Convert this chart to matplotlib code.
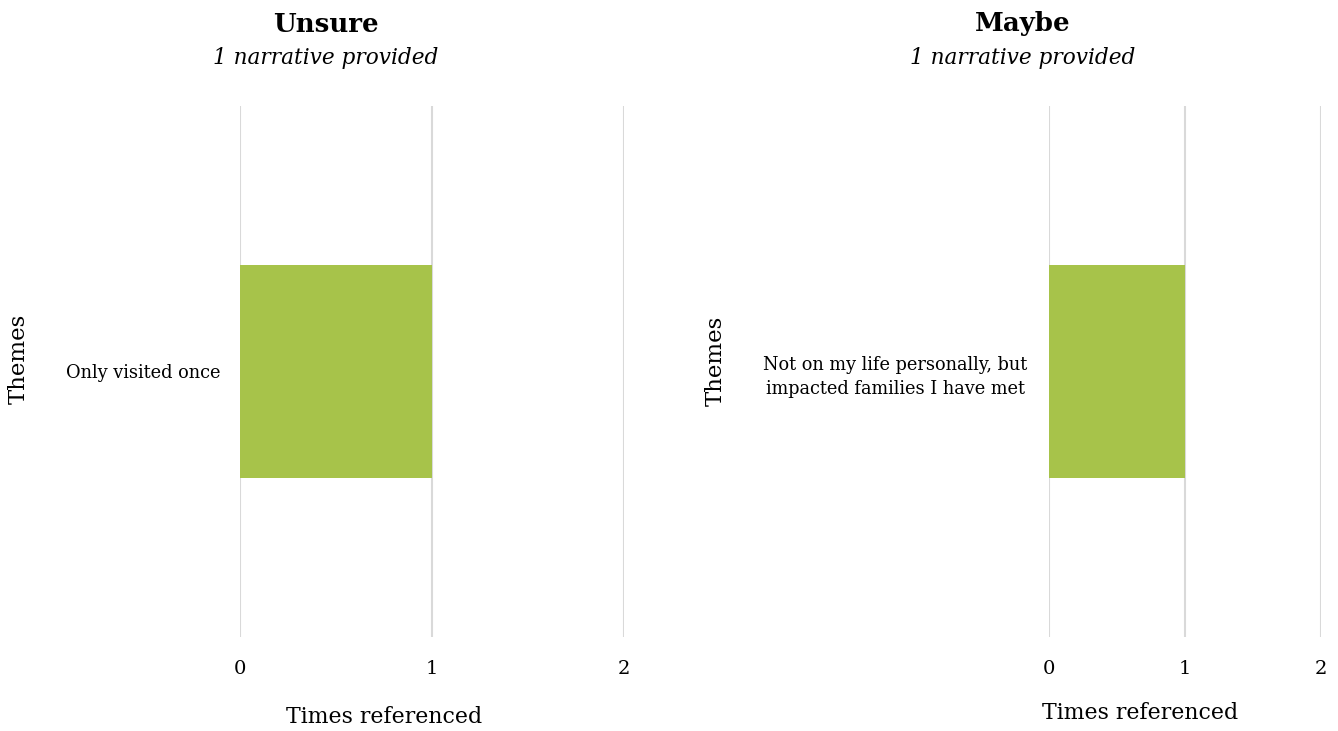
import matplotlib
matplotlib.use("Agg")
import matplotlib.pyplot as plt

plt.rcParams['font.family'] = ['DejaVu Serif']

# Data
left_title = "Unsure"
left_subtitle = "1 narrative provided"
left_categories = ["Only visited once"]
left_values = [1]

right_title = "Maybe"
right_subtitle = "1 narrative provided"
right_categories = ["Not on my life personally, but\nimpacted families I have met"]
right_values = [1]

x_ticks = [0, 1, 2]
x_label = "Times referenced"
y_label = "Themes"

bar_color = "#A7C34A"
grid_color = "#D9D9D9"

W, H = 1338, 731
fig = plt.figure(figsize=(W / 100, H / 100), dpi=100)
PT = 0.72  # points per pixel at 100 dpi


def px_axes(x0, x1, y0, y1):
    return fig.add_axes([x0 / W, 1 - y1 / H, (x1 - x0) / W, (y1 - y0) / H])


def draw(ax, cats, vals, ha, pad_px):
    ax.barh(range(len(cats)), vals, height=0.4, color=bar_color, zorder=2)
    ax.set_xlim(0, 2)
    ax.set_ylim(-0.5, len(cats) - 0.5)
    ax.set_xticks(x_ticks)
    ax.set_xticklabels([str(t) for t in x_ticks], fontsize=14)
    ax.set_yticks(range(len(cats)))
    ax.set_yticklabels(cats, fontsize=12.8, ha=ha, multialignment='center',
                       linespacing=1.45)
    ax.tick_params(length=0)
    ax.tick_params(axis='x', pad=18 * PT * 1.0 / 0.72 * 0.72 + 0)
    ax.tick_params(axis='y', pad=pad_px * PT)
    ax.grid(axis='x', color=grid_color, linewidth=1.5, zorder=0)
    for s in ax.spines.values():
        s.set_visible(False)


ax1 = px_axes(240, 624, 106, 637)
draw(ax1, left_categories, left_values, 'right', 20)

ax2 = px_axes(1049, 1321, 106, 637)
draw(ax2, right_categories, right_values, 'center', 154)

for ax in (ax1, ax2):
    ax.tick_params(axis='x', pad=23 * PT)

fs_title = 18.7
fig.text(326 / W, 1 - 24 / H, left_title, fontsize=fs_title, fontweight='bold', ha='center', va='center')
fig.text(326 / W, 1 - 58 / H, left_subtitle, fontsize=15.6, style='italic', ha='center', va='center')
fig.text(1023 / W, 1 - 24 / H, right_title, fontsize=fs_title, fontweight='bold', ha='center', va='center')
fig.text(1023 / W, 1 - 58 / H, right_subtitle, fontsize=15.6, style='italic', ha='center', va='center')

fig.text(384 / W, 1 - 717 / H, x_label, fontsize=15.8, ha='center', va='center')
fig.text(1140 / W, 1 - 713 / H, x_label, fontsize=15.8, ha='center', va='center')
fig.text(19 / W, 1 - 359 / H, y_label, fontsize=16.5, rotation=90, ha='center', va='center')
fig.text(716 / W, 1 - 361 / H, y_label, fontsize=16.5, rotation=90, ha='center', va='center')

fig.savefig("out.png", dpi=100)
